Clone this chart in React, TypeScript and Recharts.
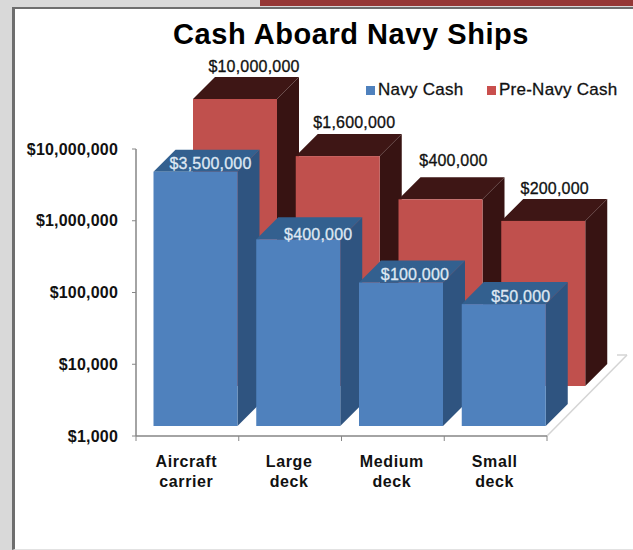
import { Bar, BarChart, LabelList, Legend, XAxis, YAxis } from "recharts"

const categories = ["Aircraft carrier", "Large deck", "Medium deck", "Small deck"]
const navyCash = [3500000, 400000, 100000, 50000]
const preNavyCash = [10000000, 1600000, 400000, 200000]
const yTicks = [1000, 10000, 100000, 1000000, 10000000]

const data = categories.map((name, i) => ({ name, navy: navyCash[i], preNavy: preNavyCash[i] }))

// label nudges, the original labels were placed by hand
const navyLabelShift = [
  [15, -8],
  [20, -5],
  [14, -8],
  [17, -8],
]
const preNavyLabelShift = [
  [19, -33],
  [16.5, -34],
  [13, -39],
  [11.5, -32],
]

const FONT = "'Liberation Sans', Arial, sans-serif"
const BAR_WIDTH = 84
const DEPTH = 22
const navyColors = { front: "#4f81bd", side: "#2f5480", top: "#33608f" }
const preNavyColors = { front: "#c0504d", side: "#371312", top: "#3e1615" }

const money = (v: number) => "$" + v.toLocaleString("en-US")

function Box3D(props: any) {
  const { x, y, width: w, height: h, dx, dy, colors } = props
  const left = x + dx
  const top = y + dy
  const right = left + w
  const bottom = top + h
  return (
    <g>
      <polygon
        points={`${right},${top} ${right + DEPTH},${top - DEPTH} ${right + DEPTH},${bottom - DEPTH} ${right},${bottom}`}
        fill={colors.side}
      />
      <polygon
        points={`${left},${top} ${left + DEPTH},${top - DEPTH} ${right + DEPTH},${top - DEPTH} ${right},${top}`}
        fill={colors.top}
      />
      <rect x={left} y={top} width={w} height={h} fill={colors.front} />
    </g>
  )
}

function BarValue(props: any) {
  const { x, y, width, value, index, dx, dy, shifts, color } = props
  return (
    <text
      x={x + dx + width / 2 + shifts[index][0]}
      y={y + dy + shifts[index][1]}
      textAnchor="middle"
      dominantBaseline="central"
      fontFamily={FONT}
      fontSize={16}
      letterSpacing={0.2}
      fill={color}
      stroke={color}
      strokeWidth={0.3}
    >
      {money(value)}
    </text>
  )
}

function CategoryTick(props: any) {
  const { x, y, index, payload } = props
  const band = 411 / categories.length
  const words = payload.value.split(" ")
  return (
    <g>
      <line x1={x + band / 2} x2={x + band / 2} y1={436} y2={441} stroke="#868686" />
      {index === 0 && <line x1={x - band / 2} x2={x - band / 2} y1={436} y2={441} stroke="#868686" />}
      <text x={x - 1} y={y + 23} textAnchor="middle" fontFamily={FONT} fontSize={16} fontWeight="bold" letterSpacing={0.6} fill="#111">
        <tspan x={x - 1}>{words[0]}</tspan>
        <tspan x={x - 1} dy={20}>
          {words[1]}
        </tspan>
      </text>
    </g>
  )
}

function ChartLegend() {
  const items = [
    { label: "Navy Cash", color: navyColors.front, width: 121 },
    { label: "Pre-Navy Cash", color: "#c94f4d", width: 140 },
  ]
  return (
    <div style={{ display: "flex", fontFamily: FONT, fontSize: 17, color: "#111", WebkitTextStroke: "0.3px #111" }}>
      {items.map((item) => (
        <div key={item.label} style={{ display: "flex", alignItems: "center", width: item.width, letterSpacing: 0.25 }}>
          <span style={{ width: 9, height: 9, background: item.color, marginRight: 3 }} />
          {item.label}
        </div>
      ))}
    </div>
  )
}

export default function App() {
  return (
    <div style={{ position: "absolute", left: 0, top: 0, width: 633, height: 550, background: "#d9d9d9", overflow: "hidden" }}>
      <div style={{ position: "absolute", left: 260, top: 0, width: 373, height: 6, background: "#953735" }} />
      <div
        style={{
          position: "absolute",
          left: 12,
          top: 7,
          width: 621,
          height: 543,
          boxSizing: "border-box",
          background: "#fff",
          borderLeft: "3px solid #6e6e6e",
          borderTop: "2px solid #6e6e6e",
          borderBottom: "1px solid #e2e2e2",
        }}
      />
      <div style={{ position: "absolute", left: 0, top: 0 }}>
        <BarChart
          width={633}
          height={550}
          data={data}
          margin={{ top: 149, right: 86, bottom: 0, left: 0 }}
          barSize={BAR_WIDTH}
          barGap={-BAR_WIDTH}
        >
          <text x={351} y={44} textAnchor="middle" fontFamily={FONT} fontSize={29} fontWeight="bold" fill="#000" letterSpacing={0.55}>
            Cash Aboard Navy Ships
          </text>
          <line x1={547} y1={436} x2={627} y2={355} stroke="#d4d4d4" strokeWidth={1.5} />
          <line x1={617} y1={355} x2={627} y2={355} stroke="#d4d4d4" strokeWidth={1.5} />
          <XAxis dataKey="name" height={114} tick={<CategoryTick />} tickLine={false} axisLine={{ stroke: "#868686", strokeWidth: 1.5 }} interval={0} />
          <YAxis
            width={136}
            scale="log"
            domain={[1000, 10000000]}
            ticks={yTicks}
            interval={0}
            tickFormatter={money}
            tickSize={4}
            tickMargin={14}
            tickLine={{ stroke: "#868686" }}
            axisLine={{ stroke: "#868686", strokeWidth: 1.5 }}
            tick={{ fontFamily: FONT, fontSize: 16, fontWeight: "bold", fill: "#111", letterSpacing: 0.2 }}
          />
          <Legend
            verticalAlign="middle"
            layout="horizontal"
            content={<ChartLegend />}
            wrapperStyle={{ position: "absolute", left: 366, top: 80, width: 270 }}
          />
          <Bar
            dataKey="preNavy"
            name="Pre-Navy Cash"
            isAnimationActive={false}
            shape={(p: any) => <Box3D {...p} dx={48} dy={-50} colors={preNavyColors} />}
          >
            <LabelList dataKey="preNavy" content={(p: any) => <BarValue {...p} dx={48} dy={-50} shifts={preNavyLabelShift} color="#111" />} />
          </Bar>
          <Bar
            dataKey="navy"
            name="Navy Cash"
            isAnimationActive={false}
            shape={(p: any) => <Box3D {...p} dx={8.5} dy={-10} colors={navyColors} />}
          >
            <LabelList dataKey="navy" content={(p: any) => <BarValue {...p} dx={8.5} dy={-10} shifts={navyLabelShift} color="#dfe8f3" />} />
          </Bar>
        </BarChart>
      </div>
    </div>
  )
}
